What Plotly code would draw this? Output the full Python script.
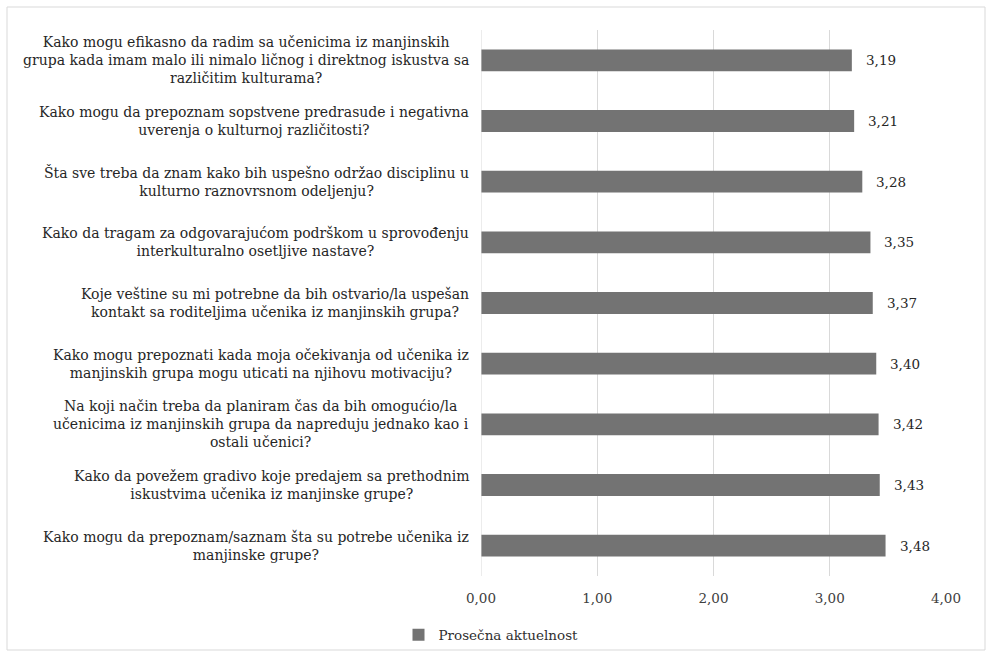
import plotly.graph_objects as go

categories = [
    "Kako mogu efikasno da radim sa učenicima iz manjinskih<br>grupa kada imam malo ili nimalo ličnog i direktnog iskustva sa<br>različitim kulturama?",
    "Kako mogu da prepoznam sopstvene predrasude i negativna<br>uverenja o kulturnoj različitosti?",
    "Šta sve treba da znam kako bih uspešno održao disciplinu u<br>kulturno raznovrsnom odeljenju?",
    "Kako da tragam za odgovarajućom podrškom u sprovođenju<br>interkulturalno osetljive nastave?",
    "Koje veštine su mi potrebne da bih ostvario/la uspešan<br>kontakt sa roditeljima učenika iz manjinskih grupa?",
    "Kako mogu prepoznati kada moja očekivanja od učenika iz<br>manjinskih grupa mogu uticati na njihovu motivaciju?",
    "Na koji način treba da planiram čas da bih omogućio/la<br>učenicima iz manjinskih grupa da napreduju jednako kao i<br>ostali učenici?",
    "Kako da povežem gradivo koje predajem sa prethodnim<br>iskustvima učenika iz manjinske grupe?",
    "Kako mogu da prepoznam/saznam šta su potrebe učenika iz<br>manjinske grupe?",
]
values = [3.19, 3.21, 3.28, 3.35, 3.37, 3.40, 3.42, 3.43, 3.48]
series_name = "Prosečna aktuelnost"
tick_vals = [0, 1, 2, 3, 4]
tick_text = ["0,00", "1,00", "2,00", "3,00", "4,00"]

W, H = 986, 654
L, R, T, B = 481, 40, 30, 78
pw, ph = W - L - R, H - T - B

serif = "DejaVu Serif"
fs = 14
fig = go.Figure()
fig.add_trace(go.Bar(
    x=values, y=categories, orientation="h", name=series_name,
    marker=dict(color="#737373", line=dict(width=0)), width=0.36,
))

annotations = []
for c, v in zip(categories, values):
    annotations.append(dict(
        x=-10 / pw, xref="paper", y=c, yref="y", text=c, showarrow=False,
        xanchor="right", yanchor="middle", align="center",
        font=dict(family=serif, size=fs, color="#262626"),
    ))
    annotations.append(dict(
        x=v, xref="x", y=c, yref="y", text=f"{v:.2f}".replace(".", ","),
        showarrow=False, xanchor="left", yanchor="middle", xshift=12,
        font=dict(family=serif, size=13.5, color="#262626"),
    ))

fig.update_layout(
    width=W, height=H,
    margin=dict(l=L, r=R, t=T, b=B, autoexpand=False),
    paper_bgcolor="white", plot_bgcolor="white",
    showlegend=True,
    legend=dict(orientation="h", x=(W / 2 - L - 2) / pw, xanchor="center",
                y=(H - B - 635) / ph, yanchor="middle", itemwidth=30,
                bgcolor="rgba(0,0,0,0)",
                font=dict(family=serif, size=13.5, color="#303030")),
    xaxis=dict(range=[0, 4], tickvals=tick_vals, ticktext=tick_text,
               showgrid=True, gridcolor="#d9d9d9", gridwidth=1,
               zeroline=False, showline=False, ticks="",
               ticklabelstandoff=12,
               tickfont=dict(family=serif, size=13.5, color="#404040")),
    yaxis=dict(autorange="reversed", showticklabels=False, showgrid=False,
               zeroline=False, showline=False, ticks=""),
    annotations=annotations,
    shapes=[
        dict(type="line", xref="x", yref="paper", x0=0, x1=0, y0=0, y1=1,
             line=dict(color="#d9d9d9", width=1)),
        dict(type="rect", xref="paper", yref="paper",
             x0=(7 - L) / pw, x1=(W - 1 - L) / pw,
             y0=(H - B - 650) / ph, y1=(H - B - 7) / ph,
             line=dict(color="#d9d9d9", width=1), layer="below"),
    ],
)
fig.write_html("out.html")
